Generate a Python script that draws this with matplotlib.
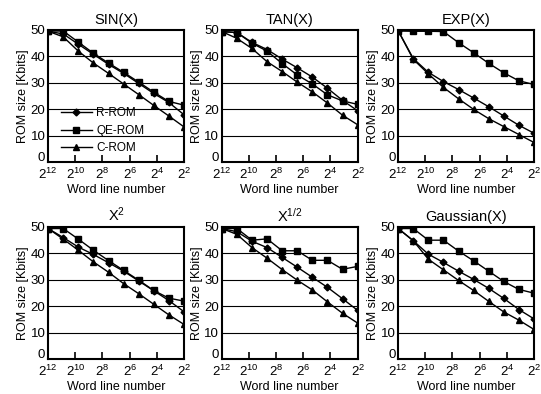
import matplotlib
matplotlib.use("Agg")
import matplotlib.pyplot as plt
from matplotlib.transforms import ScaledTranslation

plt.rcParams["font.family"] = ["Liberation Sans", "DejaVu Sans"]
plt.rcParams["mathtext.default"] = "regular"

# word line number: 10 measured points from 2^12 down to 2^2
point_idx = [0, 1, 2, 3, 4, 5, 6, 7, 8, 9]
tick_labels = ["$2^{12}$", "$2^{10}$", "$2^{8}$", "$2^{6}$", "$2^{4}$", "$2^{2}$"]
series_names = ["R-ROM", "QE-ROM", "C-ROM"]
titles = ["SIN(X)", "TAN(X)", "EXP(X)", "$X^2$", "$X^{1/2}$", "Gaussian(X)"]

# ROM size [Kbits]
sin_r = [49.5, 48.5, 44.6, 40.8, 37.0, 33.6, 29.8, 26.0, 22.6, 18.0]
sin_qe = [49.6, 49.6, 45.4, 41.2, 37.5, 34.0, 30.3, 26.5, 23.0, 21.6]
sin_c = [49.5, 47.4, 42.0, 37.5, 33.6, 29.6, 25.6, 21.5, 17.5, 13.4]

tan_r = [49.4, 49.0, 45.3, 42.6, 39.0, 35.7, 32.2, 28.0, 23.4, 19.5]
tan_qe = [49.4, 49.0, 45.0, 42.0, 37.3, 33.0, 29.6, 25.5, 23.2, 21.9]
tan_c = [49.4, 46.8, 43.0, 38.0, 34.3, 30.3, 26.6, 22.4, 17.8, 14.2]

exp_r = [49.7, 39.2, 34.0, 30.5, 27.5, 24.3, 21.0, 17.5, 14.0, 11.0]
exp_qe = [49.6, 49.5, 49.5, 49.4, 45.2, 41.4, 37.4, 33.8, 30.8, 29.4]
exp_c = [49.7, 38.9, 33.4, 28.3, 24.0, 20.0, 16.5, 13.5, 10.5, 7.5]

sq_r = [49.4, 46.0, 42.4, 39.6, 36.5, 33.3, 29.6, 25.9, 22.2, 18.0]
sq_qe = [49.4, 49.4, 45.4, 41.2, 37.3, 33.6, 29.9, 26.0, 23.1, 22.0]
sq_c = [49.4, 45.4, 41.2, 36.8, 32.9, 28.6, 24.8, 20.8, 16.8, 13.2]

sqrt_r = [49.4, 48.2, 44.6, 42.2, 38.5, 34.8, 31.0, 27.2, 22.9, 18.5]
sqrt_qe = [49.4, 49.4, 45.0, 45.5, 41.0, 41.0, 37.4, 37.4, 34.0, 35.1]
sqrt_c = [49.4, 47.2, 42.2, 38.2, 33.9, 29.9, 26.2, 21.7, 17.4, 13.7]

gauss_r = [49.4, 44.8, 39.7, 36.6, 33.3, 30.2, 26.8, 23.0, 18.8, 15.3]
gauss_qe = [49.4, 49.4, 45.0, 45.0, 40.9, 37.2, 33.3, 29.4, 26.4, 25.0]
gauss_c = [49.4, 44.8, 37.8, 33.8, 29.8, 26.0, 21.9, 17.9, 14.8, 11.3]

panels = [
    (sin_r, sin_qe, sin_c),
    (tan_r, tan_qe, tan_c),
    (exp_r, exp_qe, exp_c),
    (sq_r, sq_qe, sq_c),
    (sqrt_r, sqrt_qe, sqrt_c),
    (gauss_r, gauss_qe, gauss_c),
]
markers = ["D", "s", "^"]
msizes = [3.5, 5, 5]

fig = plt.figure(figsize=(5.41, 3.94), dpi=100)
lefts = [0.089, 0.410, 0.736]
bottoms = [0.588, 0.088]
w, h = 0.251, 0.336

tick_pos = [0, 1.8, 3.6, 5.4, 7.2, 9]

for i, (data, title) in enumerate(zip(panels, titles)):
    ax = fig.add_axes([lefts[i % 3], bottoms[i // 3], w, h])
    for ys, name, m, ms in zip(data, series_names, markers, msizes):
        ax.plot(point_idx, ys, color="black", lw=1.0, marker=m, ms=ms,
                label=name)
    ax.set_xlim(0, 9)
    ax.set_ylim(0, 50)
    ax.set_yticks([0, 10, 20, 30, 40, 50])
    ax.set_xticks(tick_pos)
    ax.set_xticklabels(tick_labels)
    ax.tick_params(axis="x", direction="in", length=5, width=1.2,
                   labelsize=9.5, pad=3)
    ax.tick_params(axis="y", length=0, labelsize=9.5, pad=2)
    # nudge the "0" label up so it sits above the 2^12 label
    zero = ax.get_yticklabels()[0]
    zero.set_transform(zero.get_transform() +
                       ScaledTranslation(0, 4 / 72, fig.dpi_scale_trans))
    for yl in [10, 20, 30, 40]:
        ax.axhline(yl, color="black", lw=0.8, zorder=0)
    for s in ax.spines.values():
        s.set_linewidth(1.5)
    ax.set_title(title, fontsize=10.5, pad=4)
    ax.set_xlabel("Word line number", fontsize=9, labelpad=2)
    ax.set_ylabel("ROM size [Kbits]", fontsize=9, labelpad=1)
    if i == 0:
        ax.legend(loc="upper left", bbox_to_anchor=(0.05, 0.46), frameon=False,
                  fontsize=8.5, handlelength=2.6, labelspacing=0.45,
                  handletextpad=0.4, borderpad=0)

fig.savefig("out.png", dpi=100)
